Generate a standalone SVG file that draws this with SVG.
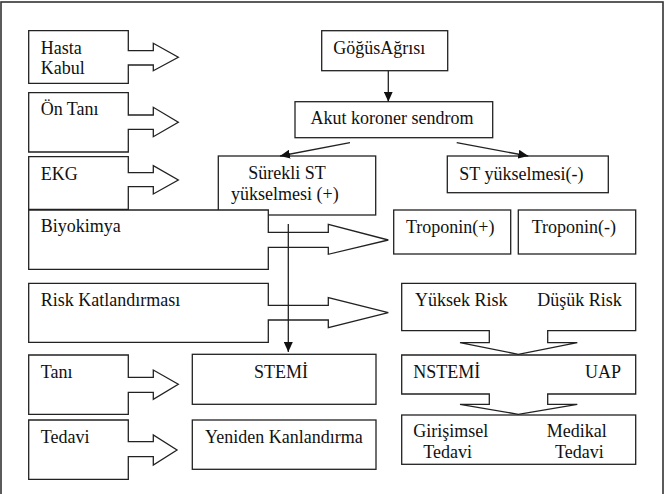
<svg xmlns="http://www.w3.org/2000/svg" width="667" height="494" viewBox="0 0 667 494">
<defs>
<marker id="ah" markerWidth="10" markerHeight="9" refX="10" refY="4.5" orient="auto" markerUnits="userSpaceOnUse"><path d="M0,0 L10,4.5 L0,9 Z" fill="#111"/></marker>
</defs>
<style>
.b{fill:#fff;stroke:#222;stroke-width:1.3}
.t{font-size:18px;fill:#111}
.c{fill:none;stroke:#222;stroke-width:1.3;marker-end:url(#ah)}
</style>
<rect x="1" y="2" width="662" height="520" fill="#fff" stroke="#333" stroke-width="1.6"/>
<g font-family="Liberation Serif, Times New Roman, DejaVu Serif, serif">
<g id="hasta"><path class="b" d="M28.7,30.7 H128.3 V50.7 H153.3 V43.3 L178.3,57.3 L153.3,70.7 V65 H128.3 V83.3 H28.7 Z"/><text class="t" x="40.7" y="54">Hasta</text><text class="t" x="40.7" y="74">Kabul</text></g>
<g id="ontani"><path class="b" d="M28.7,92.7 H128.3 V115 H153.3 V107.3 L178.3,122.3 L153.3,136.7 V129.3 H128.3 V152 H28.7 Z"/><text class="t" x="40.7" y="115">Ön Tanı</text></g>
<g id="ekg"><path class="b" d="M28.7,156.7 H128.3 V172.7 H153.3 V165.7 L178.3,180 L153.3,194 V186.7 H128.3 V209.3 H28.7 Z"/><text class="t" x="40.7" y="180">EKG</text></g>
<g id="gogus"><rect class="b" x="321.7" y="30.7" width="126" height="40"/><text class="t" x="333.3" y="54">GöğüsAğrısı</text></g>
<g id="akut"><rect class="b" x="295" y="101.7" width="197.7" height="36"/><text class="t" x="392" y="124.3" text-anchor="middle">Akut koroner sendrom</text></g>
<g id="surekli"><rect class="b" x="218.3" y="156" width="157.4" height="59"/><text class="t" x="248.3" y="179.3">Sürekli ST</text><text class="t" x="231" y="200">yükselmesi (+)</text></g>
<g id="stneg"><rect class="b" x="447.3" y="156" width="161" height="36.7"/><text class="t" x="459.3" y="180">ST yükselmesi(-)</text></g>
<g id="biyokimya"><path class="b" d="M28.7,210 H268.3 V232.3 H328.3 V224.3 L388.3,240 L328.3,254.3 V247.3 H268.3 V269.3 H28.7 Z"/><text class="t" x="40.7" y="232.3">Biyokimya</text></g>
<g id="risk"><path class="b" d="M28.7,283.3 H268.3 V305.3 H328.3 V297.7 L388.3,312.7 L328.3,327.7 V320 H268.3 V342.3 H28.7 Z"/><text class="t" x="40.7" y="306">Risk Katlandırması</text></g>
<g id="tani"><path class="b" d="M28.7,355 H128.3 V377.3 H153.3 V370 L178.3,384.3 L153.3,399.3 V392.3 H128.3 V414.3 H28.7 Z"/><text class="t" x="40.7" y="377.7">Tanı</text></g>
<g id="tedavi"><path class="b" d="M28.7,420 H128.3 V441.7 H153.3 V435 L177,450 L153.3,465 V456.7 H128.3 V479.3 H28.7 Z"/><text class="t" x="40.7" y="443.3">Tedavi</text></g>
<g id="stemi"><rect class="b" x="192.3" y="354.3" width="183.7" height="50"/><text class="t" x="254" y="377.7">STEMİ</text></g>
<g id="yeniden"><rect class="b" x="192.3" y="420" width="183.7" height="49.3"/><text class="t" x="205" y="442.7">Yeniden Kanlandırma</text></g>
<g id="tropos"><rect class="b" x="393.7" y="210" width="117" height="44"/><text class="t" x="406" y="233.3">Troponin(+)</text></g>
<g id="troneg"><rect class="b" x="518.3" y="210" width="117.4" height="44"/><text class="t" x="531.7" y="233.3">Troponin(-)</text></g>
<g id="riskbox"><path class="b" d="M401.7,283.3 H635.7 V330.7 H547.7 V342.7 H577.3 L518.3,354.3 L460,342.7 H489.3 V330.7 H401.7 Z"/><text class="t" x="415" y="306">Yüksek Risk</text><text class="t" x="537.3" y="306">Düşük Risk</text></g>
<g id="nstemi"><path class="b" d="M401.7,355 H635.7 V394 H547.7 V404.3 H577.3 L518.3,414.3 L460,404.3 H489.3 V394 H401.7 Z"/><text class="t" x="413.3" y="377.7">NSTEMİ</text><text class="t" x="585" y="377.7">UAP</text></g>
<g id="girisimsel"><rect class="b" x="401.7" y="415" width="234" height="49.3"/><text class="t" x="413.3" y="437.3">Girişimsel</text><text class="t" x="423.3" y="457.7">Tedavi</text><text class="t" x="546.7" y="437.3">Medikal</text><text class="t" x="555" y="457.7">Tedavi</text></g>
</g>
<g id="connectors">
<line class="c" x1="388.3" y1="70.7" x2="388.3" y2="101.7"/>
<line class="c" x1="350" y1="142.7" x2="280" y2="156"/>
<line class="c" x1="456.7" y1="142.7" x2="528.3" y2="156"/>
<line class="c" x1="288.3" y1="224" x2="288.3" y2="352"/>
</g>
</svg>
